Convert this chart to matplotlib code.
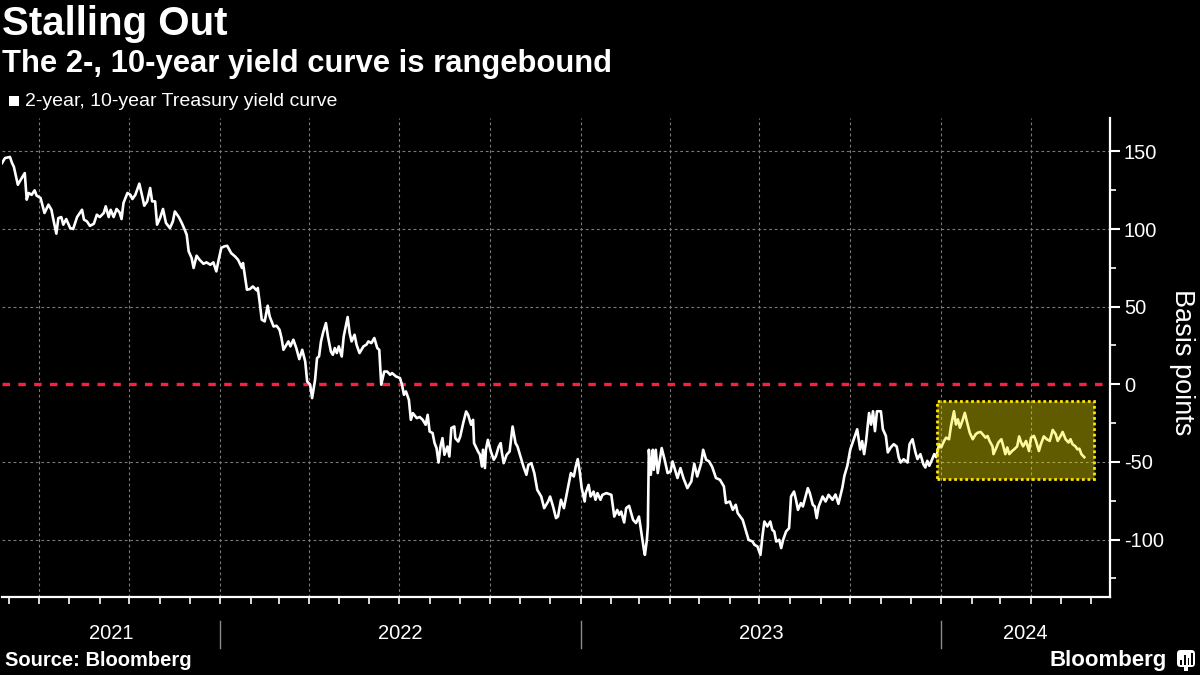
import numpy as np
import pandas as pd
import matplotlib
matplotlib.use("Agg")
import matplotlib.pyplot as plt
import matplotlib.dates as mdates
import matplotlib.transforms as mtransforms
from matplotlib.patches import Rectangle, FancyBboxPatch
from matplotlib.ticker import MultipleLocator, NullFormatter

plt.rcParams['font.family'] = ['Liberation Sans', 'DejaVu Sans']
plt.rcParams['axes.unicode_minus'] = False
plt.rcParams['lines.scale_dashes'] = False

# texts
title = "Stalling Out"
subtitle = "The 2-, 10-year yield curve is rangebound"
series_name = "2-year, 10-year Treasury yield curve"
y_label = "Basis points"
source = "Source: Bloomberg"

# 2s10s spread (days after start_date, basis points)
start_date = "2021-05-25"
day_offsets = [
    0, 3, 8, 10, 12, 16, 20, 23, 25, 27, 30, 33, 35, 39, 43, 47, 50, 52, 55, 57,
    60, 62, 65, 69, 72, 76, 81, 83, 86, 89, 93, 96, 99, 103, 105, 108, 110, 113, 116, 119,
    121, 123, 127, 130, 132, 135, 139, 142, 144, 147, 150, 152, 155, 157, 160, 163, 166, 170, 173, 175,
    179, 182, 185, 187, 189, 192, 194, 197, 200, 204, 207, 211, 214, 217, 219, 222, 225, 228, 232, 236,
    239, 243, 244, 248, 251, 254, 258, 259, 261, 263, 266, 269, 271, 275, 278, 281,
    283, 285, 290, 292, 295, 298, 301, 304, 307, 309, 312, 314, 317, 319, 321, 323, 325, 328, 330, 333,
    335, 337, 339, 341, 344, 346, 350, 352, 354, 357, 359, 362, 366, 369, 371, 374, 377, 380, 382, 384,
    387, 390, 393, 395, 399, 403, 405, 407, 409, 412, 414, 416, 420, 423, 426, 429, 431, 433, 436, 438,
    440, 442, 444, 446, 448, 451, 453, 455, 458, 459, 462, 464, 467, 470, 472, 475, 477, 478, 482, 484,
    486, 487, 489, 490, 492, 495, 498, 500, 503, 505, 506, 508, 511, 514, 517, 520, 522, 525, 528, 531,
    533, 536, 539, 542, 546, 549, 553, 555, 558, 561, 563,
    566, 569, 572, 576, 579, 581, 583, 585, 587, 590, 591, 594, 596, 599, 601, 603, 606, 608, 612, 617,
    620, 623, 625, 627, 630, 632, 635, 639, 642, 645, 647, 650, 651, 653, 654, 655, 657, 659, 660, 662,
    664, 668, 671, 674, 677, 679, 681, 684, 687, 690, 694, 698, 701, 704, 708, 710, 713, 716, 719, 723,
    727, 731, 733, 737, 740, 743, 745, 747, 750, 753, 756, 760, 762, 765, 768, 770, 772, 775, 778, 780,
    782, 784, 787, 789, 791, 794, 797, 799, 802, 804, 806, 809, 811, 816, 818, 821, 823, 825, 827, 831,
    834, 837, 841,
    844, 847, 851, 853, 856, 859, 863, 866, 869, 871, 873, 875, 878, 880, 882, 884, 886, 890, 892, 895,
    897, 900, 903, 906, 908, 910, 913, 917, 919, 922, 925, 927, 930, 933, 935, 937, 939, 942, 944, 946,
    949, 951, 954, 956, 959, 961, 964, 966, 968, 970, 973, 975, 977, 980, 983, 986, 988, 991, 993, 996,
    998, 1000, 1003, 1004, 1007, 1009, 1012, 1014, 1016, 1018, 1020, 1023, 1025, 1028, 1030, 1032, 1034, 1037, 1040, 1042,
    1045, 1047, 1050, 1052, 1055, 1058, 1061, 1064, 1067, 1069, 1072, 1074, 1077, 1080, 1082, 1084, 1087, 1089, 1091, 1093,
    1096,
]
spread_bp = [
    142.5, 145.7, 146.4, 142.7, 140, 128.5, 132.9, 136, 118.9, 123.2, 122, 124.9, 121.5, 120, 110.3, 115.7, 112.4, 106, 97, 107,
    107.7, 102.8, 106.4, 100.6, 100, 107.7, 112.4, 106, 104.9, 102, 103.4, 109.2, 107.7, 110.3, 114.6, 107.7, 112.4, 107.7, 112.9, 110.7,
    106.4, 116.8, 123.2, 122, 119.3, 122, 129.2, 121, 115, 117.8, 126.4, 117.8, 117.8, 102.8, 107, 112.9, 103.9, 100.6, 104.9, 111.3,
    107.7, 103.9, 99.5, 96.3, 85.6, 81.3, 74.9, 82.8, 80.2, 77.6, 78.5, 77, 78.5, 72.7, 79.1, 87.8, 88.8, 89.2, 84.5, 82.3,
    80.2, 74.9, 78.1, 60.9, 61.3, 63, 60.4, 62, 52.3, 41.6, 40.5, 50.6, 43.7, 37.2, 37.7, 35.1,
    29.8, 22.2, 27.6, 24.4, 28.7, 23.3, 16.2, 22.2, 14.7, 1.8, -0.3, -8.9, 2.9, 16.9, 17.9, 27.6, 33, 39.4, 30.8, 21.1,
    19, 23.3, 20.1, 24.4, 17.9, 30.8, 43.3, 33, 27.6, 31.9, 25.5, 20.1, 24.4, 25.5, 27.6, 26.5, 29.8, 23.3, 22.2, -0.3,
    8.2, 8.2, 6.1, 7.2, 5, 4, -0.3, -6.8, -4.6, -10, -22.9, -18.6, -21.8, -21.1, -22.9, -26.1, -19.7, -30.4, -31.4, -37.9,
    -41.1, -50.4, -40.1, -34.7, -45.4, -40.1, -46.5, -28.2, -27.2, -34.7, -36.9, -33.6, -25, -17.5, -19.7, -26.1, -22.9, -37.9, -43.3, -45.4,
    -53, -42.2, -54, -42.2, -35.8, -43.3, -48.6, -46.5, -40.1, -37.9, -43.3, -50.8, -45.4, -43.3, -27.2, -37.9, -40.1, -46.5, -53, -58.3,
    -51.9, -50.8, -57.2, -68, -72.3, -79.8, -75.5, -72.3, -78.7, -86.2, -85.2,
    -74.4, -79.8, -70.1, -57.2, -59.4, -53, -48.2, -56.2, -66.9, -75.5, -70.1, -64.8, -72.3, -69.1, -74.4, -70.1, -74.4, -71.2, -70.1, -71.2,
    -85.2, -80.9, -84.1, -82, -89, -79.8, -78.3, -87.3, -89.4, -85.2, -93.8, -106.6, -109.9, -100.2, -91.6, -42.2, -58.3, -42.2, -55.1, -42.2,
    -57.2, -41.1, -48.6, -57.2, -56.2, -49.7, -54, -60.4, -54, -60.4, -66.9, -62.6, -51.2, -59.4, -50.8, -42.2, -48.6, -49.7, -53, -60.4,
    -61.5, -65.8, -76.5, -75.5, -80.9, -77.6, -83, -84.7, -87.3, -93.8, -100.2, -101.3, -103.4, -104.5, -109.9, -98.1, -88.4, -91.6, -88.4, -93.8,
    -94.8, -101.3, -100.2, -105.5, -100.2, -94.8, -92.7, -72.3, -69.1, -74.4, -80.9, -76.5, -78.7, -66.9, -70.1, -77.6, -78.7, -86.2, -78.7, -72.3,
    -75.5, -71.2, -74.4,
    -71, -77, -66.5, -59, -52.5, -42, -34.5, -29, -42, -36.6, -45, -36.6, -18.5, -26, -17.4, -30.2, -17.4, -17.4, -29, -33.2,
    -43.9, -40.7, -38.6, -40.1, -47, -50.4, -48.3, -50.4, -38.6, -35.4, -43.9, -48.2, -45, -51.5, -53.6, -49.3, -52.5, -48.2, -45, -47,
    -38.6, -40.7, -36.5, -34.4, -35.4, -26.8, -17.4, -25.9, -22.6, -28, -22.6, -18.4, -23.8, -31.3, -35.4, -32.2, -31.2, -30.7, -32.2, -34.4,
    -33.3, -36.5, -40, -45, -40.7, -37.5, -35.4, -40, -45, -40.7, -45, -42.9, -41.9, -40, -33.6, -37.5, -40, -36.5, -43, -34.4,
    -33.3, -36.5, -43, -38.6, -33.6, -35.4, -36.5, -29.4, -32.2, -36.5, -33.3, -30.7, -35.4, -37.5, -35.4, -38.6, -40, -41.9, -41.5, -45,
    -47,
]

axis_start = "2021-05-25"
axis_end = "2024-06-20"
y_ticks = [150, 100, 50, 0, -50, -100]
years = [2021, 2022, 2023, 2024]

# highlighted range
box_start = "2023-12-28"
box_end = "2024-06-04"
box_low = -61
box_high = -11

dates = pd.Timestamp(start_date) + pd.to_timedelta(day_offsets, unit="D")

fig = plt.figure(figsize=(12, 6.75), dpi=100, facecolor="black")
ax = fig.add_axes([0.0017, 0.1156, 0.9233, 0.7096])
ax.set_facecolor("black")

ax.plot(dates, spread_bp, color="white", lw=1.9, zorder=3)
ax.axhline(0, color="#ff1f3d", lw=2.4, dashes=(5.4, 6.0), zorder=2)

x0 = mdates.date2num(pd.Timestamp(box_start))
x1 = mdates.date2num(pd.Timestamp(box_end))
ax.add_patch(Rectangle((x0, box_low), x1 - x0, box_high - box_low,
                       facecolor=(1.0, 0.94, 0.0, 0.38), edgecolor="#ffe600",
                       lw=2.0, linestyle=(0, (2, 2)), zorder=4))

ax.set_xlim(pd.Timestamp(axis_start), pd.Timestamp(axis_end))
ax.set_ylim(-137, 171.5)

# x axis: quarterly grid, monthly ticks
ax.xaxis.set_major_locator(mdates.MonthLocator(bymonth=[1, 4, 7, 10]))
ax.xaxis.set_minor_locator(mdates.MonthLocator())
ax.xaxis.set_major_formatter(NullFormatter())
ax.tick_params(axis="x", which="both", direction="out", length=5, width=1.2, color="white")
ax.grid(axis="x", which="major", color="#7a7a7a", lw=0.8, ls=(0, (2, 2)))

# y axis on the right
ax.yaxis.tick_right()
ax.set_yticks(y_ticks)
ax.yaxis.set_minor_locator(MultipleLocator(25))
ax.tick_params(axis="y", which="major", direction="out", length=7, width=1.5,
               color="white", labelcolor="white", labelsize=14.5, pad=3)
ax.tick_params(axis="y", which="minor", direction="out", length=4, width=1.2, color="white")
ax.grid(axis="y", which="major", color="#7a7a7a", lw=0.8, ls=(0, (2, 2)))
ax.set_axisbelow(True)
# the zero line is drawn in red instead of a grid line
for tick_value, gridline in zip(y_ticks, ax.yaxis.get_gridlines()):
    if tick_value == 0:
        gridline.set_visible(False)

for side in ["left", "top"]:
    ax.spines[side].set_visible(False)
for side in ["right", "bottom"]:
    ax.spines[side].set_color("white")
    ax.spines[side].set_linewidth(1.6)

# year labels and separators under the axis
trans = mtransforms.blended_transform_factory(ax.transData, ax.transAxes)
lo_all = pd.Timestamp(axis_start)
hi_all = pd.Timestamp(axis_end)
for yr in years:
    lo = max(pd.Timestamp(f"{yr}-01-01"), lo_all)
    hi = min(pd.Timestamp(f"{yr + 1}-01-01"), hi_all)
    mid = lo + (hi - lo) / 2
    ax.text(mdates.date2num(mid), -0.077, str(yr), transform=trans, ha="center",
            va="center", color="white", fontsize=14.5)
    if yr > years[0]:
        xd = mdates.date2num(pd.Timestamp(f"{yr}-01-01"))
        ax.plot([xd, xd], [-0.05, -0.106], transform=trans, color="#8a8a8a",
                lw=1.0, clip_on=False)

# titles and legend
fig.text(0.002, 0.992, title, color="white", fontsize=29, fontweight="bold", va="top")
fig.text(0.002, 0.928, subtitle, color="white", fontsize=22.3, fontweight="bold", va="top")
fig.patches.append(Rectangle((9 / 1200, 1 - 106 / 675), 10 / 1200, 10 / 675,
                             transform=fig.transFigure, facecolor="white", edgecolor="none"))
fig.text(25 / 1200, 1 - 101 / 675, series_name, color="white", fontsize=14, va="center")

fig.text(0.985, 0.464, y_label, color="white", fontsize=19.5, rotation=270,
         ha="center", va="center")

fig.text(0.004, 0.021, source, color="white", fontsize=14.5, fontweight="bold", va="center")
fig.text(0.9725, 0.021, "Bloomberg", color="white", fontsize=16, fontweight="bold",
         ha="right", va="center")

# small logo mark
icon = fig.add_axes([1176 / 1200, 1 - 671 / 675, 20 / 1200, 22 / 675])
icon.set_xlim(0, 1)
icon.set_ylim(0, 1.1)
icon.axis("off")
icon.add_patch(FancyBboxPatch((0.05, 0.2), 0.9, 0.85, boxstyle="round,pad=0,rounding_size=0.18",
                              facecolor="white", edgecolor="none"))
icon.add_patch(Rectangle((0.42, 0.02), 0.16, 0.2, facecolor="white", edgecolor="none"))
for bx, bh in zip([0.22, 0.4, 0.58, 0.74], [0.25, 0.5, 0.35, 0.6]):
    icon.add_patch(Rectangle((bx, 0.32), 0.09, bh, facecolor="black", edgecolor="none"))

fig.savefig("out.png", dpi=100, facecolor="black")
